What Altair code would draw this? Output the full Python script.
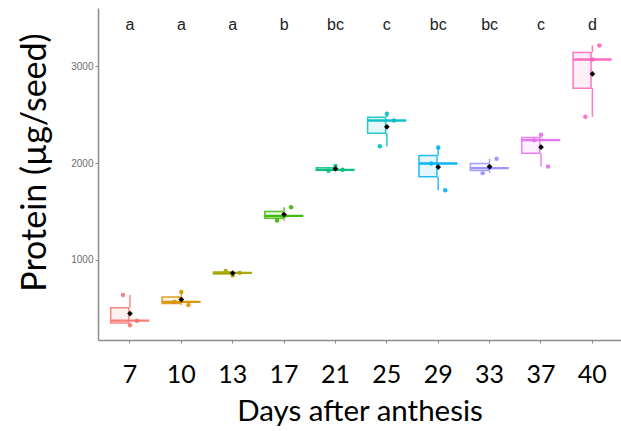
import altair as alt
import pandas as pd

# Days after anthesis (categories)
days = ["7", "10", "13", "17", "21", "25", "29", "33", "37", "40"]
# Three replicate measurements per day (ordered left -> right as drawn)
rep_a = [638, 566, 885, 1407, 1921, 2176, 1996, 1897, 2238, 2479]
rep_b = [324, 669, 840, 1455, 1972, 2510, 2162, 1949, 2293, 3072]
rep_c = [372, 534, 866, 1545, 1931, 2441, 1721, 2045, 1966, 3217]
# Significance letters
letters = ["a", "a", "a", "b", "bc", "c", "bc", "bc", "c", "d"]
# Group colours
colors = ["#F8766D", "#D89000", "#A3A500", "#39B600", "#00BF7D",
          "#00BFC4", "#00B0F6", "#9590FF", "#E76BF3", "#FF62BC"]
y_ticks = [1000, 2000, 3000]

rows = []
for i, d in enumerate(days):
    for r, reps in enumerate([rep_a, rep_b, rep_c]):
        rows.append({"day": d, "rep": r + 1, "value": reps[i]})
df = pd.DataFrame(rows)
letters_df = pd.DataFrame({"day": days, "letter": letters})

AX_GRAY = "#8c8c8c"
BIG_FONT = "Lato"
W, H = 523, 332
STEP = W / (10 + 2 * 0.09)
HALF = STEP / 2

X = alt.X(
    "day:N",
    sort=days,
    scale=alt.Scale(paddingInner=0, paddingOuter=0.09, align=0.68),
    axis=alt.Axis(
        title="Days after anthesis",
        titleFont=BIG_FONT, titleFontSize=29.5, titleFontWeight="normal",
        titleColor="black", titleBaseline="alphabetic", titleY=80,
        labelFont=BIG_FONT, labelFontSize=25, labelColor="black",
        labelAngle=0, labelPadding=19,
        tickColor=AX_GRAY, tickSize=3, tickWidth=1,
        domainColor=AX_GRAY, domainWidth=1.5,
    ),
)

def Y(field):
    return alt.Y(
        field,
        scale=alt.Scale(domain=[172, 3604], nice=False, zero=False),
        axis=alt.Axis(
            values=y_ticks, grid=False, format="d",
            title="Protein (µg/seed)",
            titleFont=BIG_FONT, titleFontSize=34, titleFontWeight="normal",
            titleColor="black", titleX=-46, titleY=154, titleBaseline="bottom",
            titleAlign="center",
            labelFont="Liberation Sans", labelFontSize=10, labelColor="#6b6b6b",
            labelPadding=2,
            tickColor=AX_GRAY, tickSize=3, tickWidth=1,
            domainColor=AX_GRAY, domainWidth=1.5,
        ),
    )

C = alt.Color("day:N", scale=alt.Scale(domain=days, range=colors), legend=None)
S = alt.Stroke("day:N", scale=alt.Scale(domain=days, range=colors), legend=None)

base = alt.Chart(df)
agg = base.transform_aggregate(
    lo="min(value)", q1="q1(value)", med="median(value)",
    q3="q3(value)", hi="max(value)", groupby=["day"],
)

box = agg.mark_bar(
    width=alt.RelativeBandSize(0.75), fillOpacity=0.1, strokeWidth=1.5, strokeOpacity=0.85
).encode(x=X, y=Y("q1:Q"), y2="q3:Q", color=C, stroke=S)

wl = agg.mark_rule(strokeWidth=1.5, opacity=0.85).encode(x=X, y=Y("lo:Q"), y2="q1:Q", color=C)
wh = agg.mark_rule(strokeWidth=1.5, opacity=0.85).encode(x=X, y=Y("q3:Q"), y2="hi:Q", color=C)

med = agg.mark_tick(size=0.75 * STEP, thickness=2.4, opacity=0.95).encode(
    x=X, y=Y("med:Q"), color=C
)

pts = base.mark_circle(size=20, opacity=0.9).encode(
    x=X,
    xOffset=alt.XOffset(
        "rep:N", scale=alt.Scale(type="point", padding=0, range=[HALF - 7, HALF + 7])
    ),
    y=Y("value:Q"),
    color=C,
)

mean = base.mark_point(shape="diamond", filled=True, size=32, color="black", opacity=1).encode(
    x=X, y=Y("mean(value):Q")
)

txt = alt.Chart(letters_df).mark_text(
    font="Liberation Sans", fontSize=16, color="#222222", baseline="middle"
).encode(x=X, text="letter:N", y=alt.value(17))

chart = alt.layer(box, wl, wh, med, pts, mean, txt).properties(
    width=W, height=H,
    autosize=alt.AutoSizeParams(type="none"),
    padding={"left": 98, "top": 8, "right": 0, "bottom": 91},
    background="white",
).configure_view(stroke=None)

chart.save("out.html", embed_options={"renderer": "svg", "actions": False})
